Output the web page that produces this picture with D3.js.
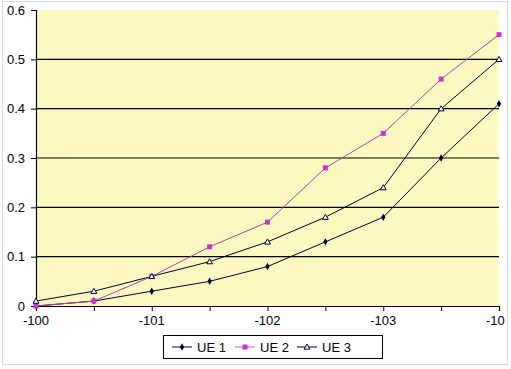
<!DOCTYPE html>
<html><head><meta charset="utf-8">
<script src="https://cdn.jsdelivr.net/npm/d3@7"></script>
<style>body{margin:0;background:#fff;}svg{display:block;font-family:"Liberation Sans",Arial,sans-serif;}</style>
</head><body>
<svg id="c" width="511" height="369"></svg>
<script>
const categories = [-100, -100.5, -101, -101.5, -102, -102.5, -103, -103.5, -104];
const tickLabels = ["-100", "-101", "-102", "-103", "-104"];
const yTicks = [0, 0.1, 0.2, 0.3, 0.4, 0.5, 0.6];
const seriesNames = ["UE 1", "UE 2", "UE 3"];
const ue1 = [0, 0.01, 0.03, 0.05, 0.08, 0.13, 0.18, 0.30, 0.41];
const ue2 = [0, 0.01, 0.06, 0.12, 0.17, 0.28, 0.35, 0.46, 0.55];
const ue3 = [0.01, 0.03, 0.06, 0.09, 0.13, 0.18, 0.24, 0.40, 0.50];

const svg = d3.select("#c");
svg.append("defs").append("clipPath").attr("id","frame")
  .append("rect").attr("x",0).attr("y",0).attr("width",505).attr("height",364);
svg.append("rect").attr("x",2.5).attr("y",1.5).attr("width",505).attr("height",363)
  .attr("fill","#fff").attr("stroke","#d8d8d8");

const L=36, R=499, T=10, B=306;
const x = d3.scaleLinear().domain([-100,-104]).range([L,R]);
const y = d3.scaleLinear().domain([0,0.6]).range([B,T]);

svg.append("rect").attr("x",L).attr("y",T).attr("width",R-L).attr("height",B-T).attr("fill","#fcf9c0");

// gridlines
svg.append("g").selectAll("line").data(yTicks.filter(d=>d>0 && d<0.6)).join("line")
  .attr("x1",L).attr("x2",R).attr("y1",d=>y(d)).attr("y2",d=>y(d))
  .attr("stroke","#000").attr("stroke-width",1.2);

// y axis
const ya = svg.append("g").attr("transform",`translate(${L},0)`)
  .call(d3.axisLeft(y).tickValues(yTicks).tickSize(5).tickFormat(d=>d===0?"0":d3.format(".1f")(d)));
ya.select(".domain").attr("stroke","#000").attr("stroke-width",1.2);
ya.selectAll("text").attr("font-size",13).attr("fill","#000").attr("font-family","Liberation Sans, Arial, sans-serif").attr("x",-11);

// x axis
const xa = svg.append("g").attr("transform",`translate(0,${B})`)
  .call(d3.axisBottom(x).tickValues(categories).tickSize(5).tickFormat(()=>""));
xa.select(".domain").attr("stroke","#000").attr("stroke-width",1.2);
svg.append("g").attr("clip-path","url(#frame)").selectAll("text").data(tickLabels).join("text")
  .attr("x",d=>x(+d)).attr("y",B+19).attr("text-anchor","middle")
  .attr("font-size",13).text(d=>d);

const line = d3.line().x((d,i)=>x(categories[i])).y(d=>y(d));
const navy = "#000030", mag = "#cc33cc";

svg.append("path").datum(ue1).attr("d",line).attr("fill","none").attr("stroke",navy).attr("stroke-width",1);
svg.append("path").datum(ue3).attr("d",line).attr("fill","none").attr("stroke",navy).attr("stroke-width",1);
svg.append("path").datum(ue2).attr("d",line).attr("fill","none").attr("stroke","#a04aa0").attr("stroke-width",1);

const diamond = d3.symbol().type(d3.symbolDiamond).size(16);
const tri = d3.symbol().type(d3.symbolTriangle).size(15);
svg.append("g").selectAll("path").data(ue1).join("path")
  .attr("transform",(d,i)=>`translate(${x(categories[i])},${y(d)})`).attr("d",diamond).attr("fill",navy);
svg.append("g").selectAll("rect").data(ue2).join("rect")
  .attr("x",(d,i)=>x(categories[i])-2.5).attr("y",d=>y(d)-2.5).attr("width",5).attr("height",5).attr("fill",mag);
svg.append("g").selectAll("path").data(ue3).join("path")
  .attr("transform",(d,i)=>`translate(${x(categories[i])},${y(d)+0.5})`).attr("d",tri).attr("fill","#fff").attr("stroke",navy).attr("stroke-width",1);

// legend
const lg = svg.append("g");
lg.append("rect").attr("x",163.5).attr("y",335.5).attr("width",219).attr("height",23).attr("fill","#fff").attr("stroke","#000");
const lx = [172, 235, 297];
seriesNames.forEach((n,i)=>{
  const cy = 347;
  lg.append("line").attr("x1",lx[i]).attr("x2",lx[i]+20).attr("y1",cy).attr("y2",cy)
    .attr("stroke", i===1?"#cc55cc":navy).attr("stroke-width",1);
  if(i===0) lg.append("path").attr("transform",`translate(${lx[i]+10},${cy})`).attr("d",diamond).attr("fill",navy);
  if(i===1) lg.append("rect").attr("x",lx[i]+7.5).attr("y",cy-2.5).attr("width",5).attr("height",5).attr("fill",mag);
  if(i===2) lg.append("path").attr("transform",`translate(${lx[i]+10},${cy+0.5})`).attr("d",tri).attr("fill","#fff").attr("stroke",navy);
  lg.append("text").attr("x",lx[i]+25).attr("y",cy+5).attr("font-size",13).text(n);
});
</script>
</body></html>
